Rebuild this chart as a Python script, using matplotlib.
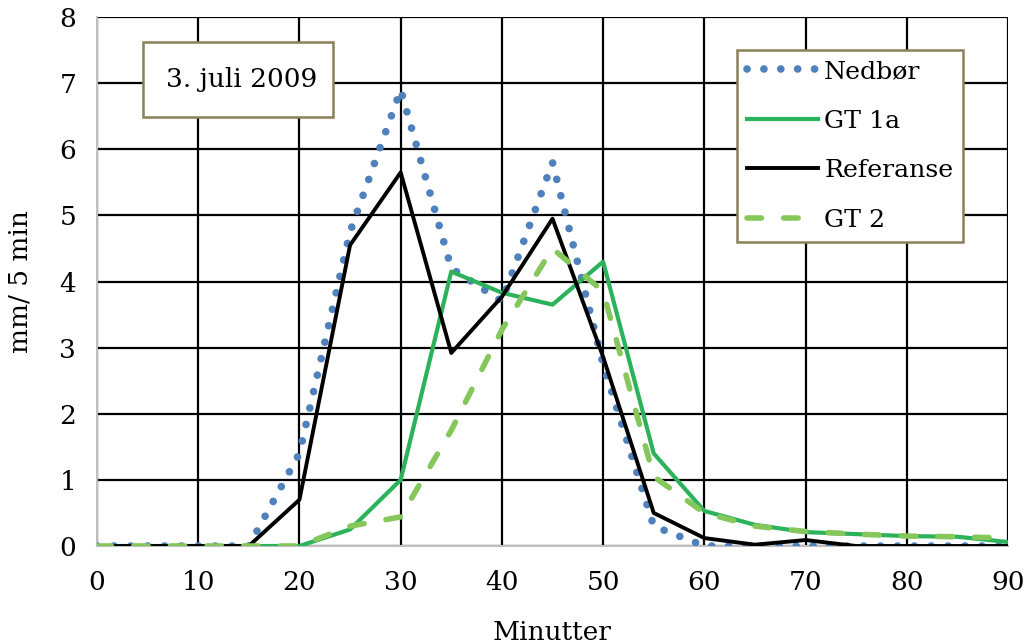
import matplotlib.pyplot as plt
from matplotlib.patches import Rectangle

plt.rcParams['font.family'] = ['DejaVu Serif']

minutter = [0, 5, 10, 15, 20, 25, 30, 35, 40, 45, 50, 55, 60, 65, 70, 75, 80, 85, 90]
nedbor = [0, 0, 0, 0, 1.4, 4.75, 6.9, 4.2, 3.7, 5.8, 2.75, 0.3, 0, 0, 0, 0, 0, 0, 0]
gt1a = [0, 0, 0, 0, 0, 0.25, 1.0, 4.15, 3.83, 3.65, 4.3, 1.4, 0.53, 0.32, 0.21, 0.18, 0.15, 0.14, 0.06]
referanse = [0, 0, 0, 0, 0.7, 4.55, 5.65, 2.92, 3.77, 4.95, 2.86, 0.5, 0.12, 0.02, 0.09, 0, 0, 0, 0]
gt2 = [0, 0, 0, 0, 0, 0.3, 0.44, 1.75, 3.27, 4.5, 3.85, 1.05, 0.5, 0.3, 0.22, 0.18, 0.15, 0.14, 0.12]

fs = 19

fig = plt.figure(figsize=(10.31, 6.43), dpi=100)
ax = fig.add_axes([97 / 1031, 97 / 643, 911 / 1031, 529 / 643])

ax.plot(minutter, nedbor, color='#4f81bd', lw=5.5, linestyle=(0, (0.01, 2.2)),
        dash_capstyle='round', label='Nedbør', zorder=3)
ax.plot(minutter, gt1a, color='#2bb25b', lw=3, label='GT 1a', zorder=4)
ax.plot(minutter, referanse, color='black', lw=2.8, label='Referanse', zorder=5)
ax.plot(minutter, gt2, color='#86c75b', lw=4, linestyle=(0, (2.6, 4.0)),
        dash_capstyle='round', label='GT 2', zorder=6)

ax.set_xlim(0, 90)
ax.set_ylim(0, 8)
ax.set_xticks(range(0, 91, 10))
ax.set_yticks(range(0, 9))
ax.grid(True, color='black', lw=1.6)
ax.set_axisbelow(True)
ax.tick_params(labelsize=fs, length=0)
ax.tick_params(axis='x', pad=17)
ax.tick_params(axis='y', pad=15)
for s in ['top', 'right']:
    ax.spines[s].set_visible(False)
for s in ['left', 'bottom']:
    ax.spines[s].set_color('#bfbfbf')
    ax.spines[s].set_linewidth(1.5)

ax.set_xlabel('Minutter', fontsize=fs, labelpad=18)
ax.set_ylabel('mm/ 5 min', fontsize=fs, labelpad=19)

ax.add_patch(Rectangle((0.0505, 0.811), 0.2086, 0.1417, transform=ax.transAxes,
                       facecolor='white', edgecolor='#8a8058', lw=1.8, zorder=7))
ax.text(0.0505 + 0.108, 0.882, '3. juli 2009', transform=ax.transAxes,
        ha='center', va='center', fontsize=fs, zorder=8)

leg = ax.legend(loc='upper left', bbox_to_anchor=(0.7025, 0.9376), fontsize=18.2,
                frameon=True, fancybox=False, framealpha=1, edgecolor='#8a8058',
                handlelength=2.8, handletextpad=0.25, labelspacing=1.05,
                borderpad=0.4, borderaxespad=0)
leg.get_frame().set_linewidth(1.8)
leg.set_zorder(9)

fig.savefig('out.png', dpi=100)
